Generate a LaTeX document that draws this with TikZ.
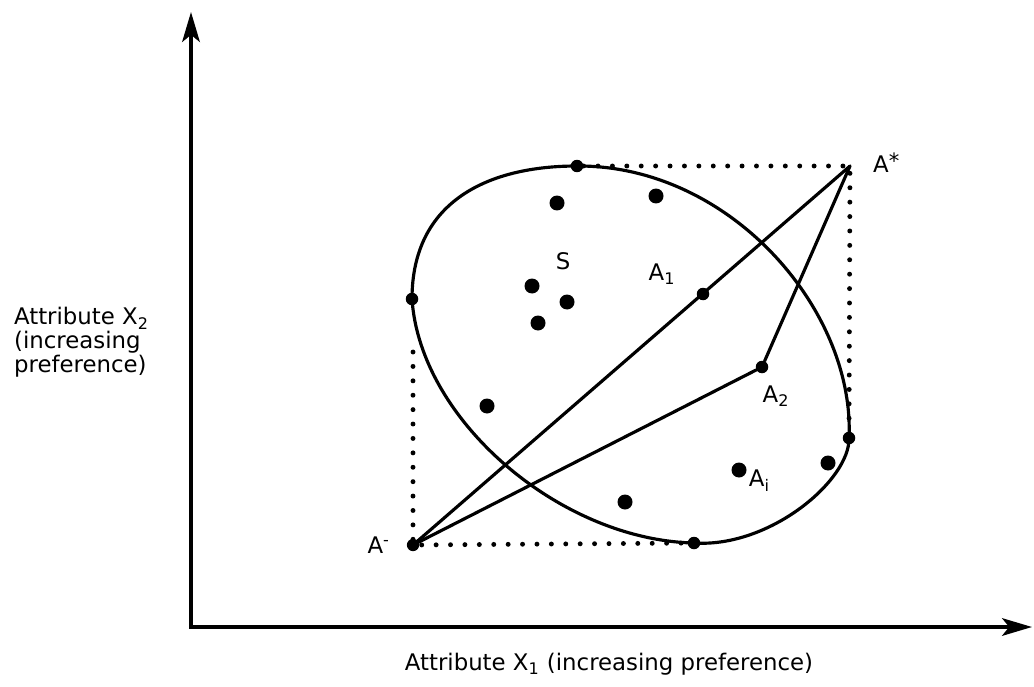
\documentclass[tikz,border=0pt]{standalone}
\usepackage{fontspec}
\setmainfont{DejaVu Sans}
\usetikzlibrary{arrows.meta,positioning}

\begin{document}
\begin{tikzpicture}[
    x=0.02cm, y=-0.02cm,
    dot/.style={circle, fill=black, inner sep=0pt, minimum size=0.3cm},
    edot/.style={circle, fill=black, inner sep=0pt, minimum size=0.25cm},
    lbl/.style={font=\fontsize{13}{11.5}\selectfont, text=black, inner sep=1pt},
    axis/.style={{Stealth[length=17pt, width=10pt, inset=4pt]}-{Stealth[length=17pt, width=10pt, inset=4pt]}, line width=2.1pt},
    link/.style={line width=1.8pt, line cap=round},
    bound/.style={line width=2.8pt, dash pattern=on 0pt off 8.2pt, line cap=round},
    curve/.style={line width=1.8pt},
]
\useasboundingbox (0,0) rectangle (1034,686);

% Axes
\coordinate (o) at (191,627);
\coordinate (ytip) at (191,12);
\coordinate (xtip) at (1032,627);
\draw[axis] (ytip) -- (o) -- (xtip);
\node[lbl, align=left, anchor=west] (ylab) at (12,342) {Attribute X\textsubscript{2}\\(increasing\\preference)};
\node[lbl] (xlab) at (609,664) {Attribute X\textsubscript{1} (increasing preference)};

% Set S boundary
\coordinate (ct) at (577,166);
\coordinate (cl) at (412,299);
\coordinate (cb) at (694,543);
\coordinate (cr) at (849,438);
\draw[curve] (ct) .. controls (730,165) and (855,310) .. (cr)
    .. controls (850,480) and (770,548) .. (cb)
    .. controls (560,540) and (420,420) .. (cl)
    .. controls (412,200) and (490,166) .. (ct) -- cycle;

% Ideal and anti-ideal points
\coordinate (ap) at (850,166);
\coordinate (am) at (413,545);
\coordinate (lc) at (413,352);
\fill (am) circle (3.5pt);

% Points on the boundary
\node[edot] (top) at (ct) {};
\node[edot] (left) at (cl) {};
\node[edot] (bottom) at (cb) {};
\node[edot] (right) at (cr) {};

% Alternatives
\node[dot] (s1) at (557,203) {};
\node[dot] (s2) at (656,196) {};
\node[dot] (s3) at (532,286) {};
\node[dot] (s4) at (567,302) {};
\node[dot] (s5) at (538,323) {};
\node[dot] (s6) at (487,406) {};
\node[dot] (s7) at (625,502) {};
\node[dot] (ai) at (739,470) {};
\node[dot] (s8) at (828,463) {};
\node[edot] (a1) at (703,294) {};
\node[edot] (a2) at (762,367) {};

% Bounding box of S
\draw[bound] (top) -- (ap) -- (right);
\draw[bound] (lc) -- (am) -- (bottom);

% Links
\draw[link] (am) -- (ap);
\draw[link] (am) -- (a2);
\draw[link] (a2) -- (ap);

% Labels
\node[lbl] at (563,261) {S};
\node[lbl] at (662,274) {A\textsubscript{1}};
\node[lbl] at (776,396) {A\textsubscript{2}};
\node[lbl, right=0pt of ai, yshift=-6pt] {A\textsubscript{i}};
\node[lbl, right=12pt of ap, yshift=2pt] {A\raisebox{2pt}{\large*}};
\node[lbl, left=12pt of am] {A\textsuperscript{-}};
\end{tikzpicture}
\end{document}
